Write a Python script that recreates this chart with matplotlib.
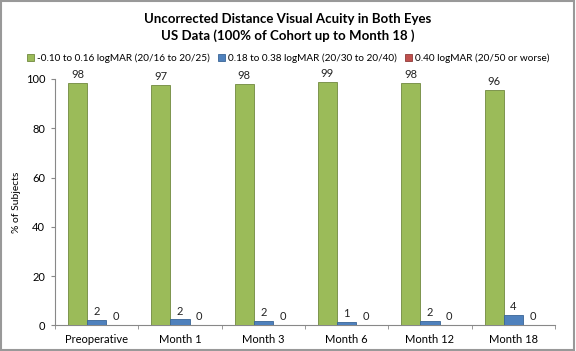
import matplotlib
matplotlib.use("Agg")
import matplotlib.pyplot as plt
import numpy as np
from matplotlib.patches import Rectangle

# ── Data ──────────────────────────────────────────────────────────────────────
categories = ["Preoperative", "Month 1", "Month 3", "Month 6", "Month 12", "Month 18"]
series_names = [
    "-0.10 to 0.16 logMAR (20/16 to 20/25)",
    "0.18 to 0.38 logMAR (20/30 to 20/40)",
    "0.40 logMAR (20/50 or worse)",
]
good_vals = [98.2, 97.4, 98.0, 98.6, 98.2, 95.7]
mid_vals = [2.3, 2.4, 1.7, 1.2, 1.8, 4.4]
poor_vals = [0.3, 0.3, 0.3, 0.3, 0.0, 0.0]
yticks = [0, 20, 40, 60, 80, 100]

plt.rcParams["font.family"] = ["Lato", "DejaVu Sans"]

colors = ["#9BBB59", "#4F81BD", "#C0504D"]
edges = ["#71893F", "#3A6596", "#8E3B39"]

fig = plt.figure(figsize=(5.76, 3.51), dpi=100)
ax = fig.add_axes([0.0955, 0.073, 0.868, 0.702])

x = np.arange(len(categories))
width = 0.23
offsets = [-width, 0, width]

for i, vals in enumerate([good_vals, mid_vals, poor_vals]):
    bars = ax.bar(x + offsets[i], vals, width=width, color=colors[i],
                  edgecolor=edges[i], linewidth=0.6, label=series_names[i], zorder=3)
    for bar, v in zip(bars, vals):
        ax.text(bar.get_x() + bar.get_width() / 2, v + 1.2, f"{round(v):d}",
                ha="center", va="bottom", fontsize=8, color="#222222")

ax.set_xlim(-0.5, len(categories) - 0.5)
ax.set_ylim(0, 100)
ax.set_yticks(yticks)
ax.tick_params(axis="y", labelsize=8, length=3, color="#888888", pad=4)
ax.set_xticks(x)
ax.set_xticklabels(categories, fontsize=8)
ax.tick_params(axis="x", length=0, pad=6)
ax.set_xticks(np.arange(len(categories) + 1) - 0.5, minor=True)
ax.tick_params(axis="x", which="minor", length=3, color="#888888", direction="out")
ax.set_ylabel("% of Subjects", fontsize=7.5)
ax.yaxis.set_label_coords(-0.068, 0.5)
for s in ["top", "right"]:
    ax.spines[s].set_visible(False)
for s in ["left", "bottom"]:
    ax.spines[s].set_color("#888888")
    ax.spines[s].set_linewidth(0.8)

fig.text(0.5, 0.922, "Uncorrected Distance Visual Acuity in Both Eyes\nUS Data (100% of Cohort up to Month 18 )",
         ha="center", va="center", fontsize=9.5, fontweight="bold", linespacing=1.45)

fig.legend(loc="center", bbox_to_anchor=(0.5, 0.835), ncol=3, frameon=False,
           fontsize=7.2, handlelength=0.7, handleheight=0.7, handletextpad=0.3,
           columnspacing=0.8)

fig.patches.append(Rectangle((0.002, 0.003), 0.995, 0.993, transform=fig.transFigure,
                             fill=False, edgecolor="#999999", linewidth=1.5))

fig.savefig("out.png", dpi=100)
